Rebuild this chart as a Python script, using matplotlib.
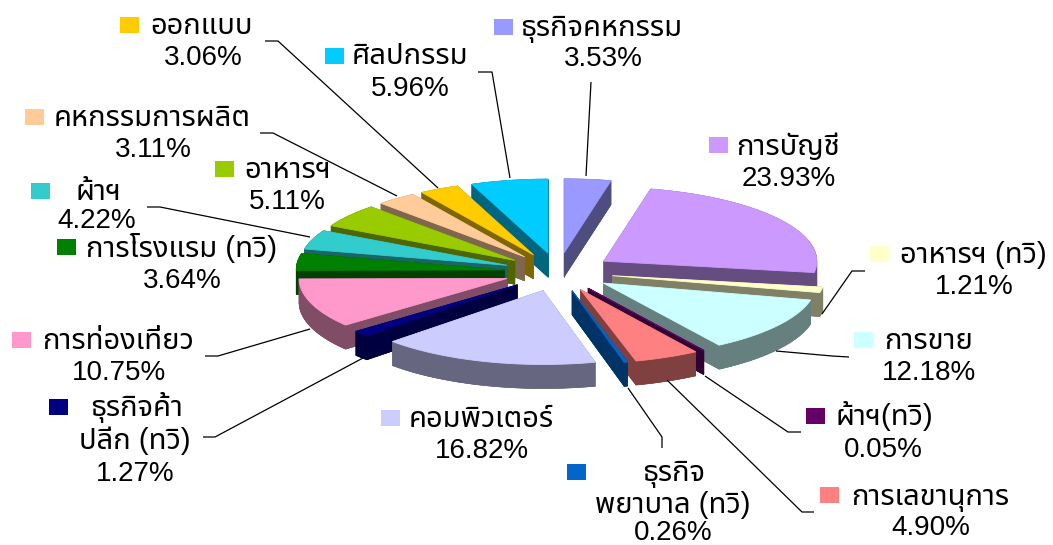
import numpy as np
import matplotlib
matplotlib.use("Agg")
import matplotlib.pyplot as plt
from matplotlib.patches import Polygon, Rectangle
from matplotlib import font_manager as fm

names = ["ธุรกิจคหกรรม", "การบัญชี", "อาหารฯ (ทวิ)", "การขาย", "ผ้าฯ(ทวิ)", "การเลขานุการ",
         "ธุรกิจพยาบาล (ทวิ)", "คอมพิวเตอร์", "ธุรกิจค้าปลีก (ทวิ)", "การท่องเที่ยว",
         "การโรงแรม (ทวิ)", "ผ้าฯ", "อาหารฯ", "คหกรรมการผลิต", "ออกแบบ", "ศิลปกรรม"]
values = [3.53, 23.93, 1.21, 12.18, 0.05, 4.90, 0.26, 16.82, 1.27, 10.75, 3.64, 4.22, 5.11, 3.11, 3.06, 5.96]
colors = ["#9999FF", "#CC99FF", "#FFFFCC", "#CCFFFF", "#660066", "#FF8080", "#0066CC", "#CCCCFF",
          "#000080", "#FF99CC", "#008000", "#33CCCC", "#99CC00", "#FFCC99", "#FFCC00", "#00CCFF"]

# Label layout: key left/top, list of (text, centre x, baseline y) lines
label_keys = [(494, 19), (709, 137), (870, 246), (854, 332), (806, 408), (820, 487), (567, 464), (381, 410),
              (49, 399), (12, 332), (57, 239), (31, 183), (215, 161), (25, 109), (120, 17), (325, 48)]
label_lines = [
    [("ธุรกิจคหกรรม", 601, 36)],
    [("การบัญชี", 788, 155)],
    [("อาหารฯ (ทวิ)", 973, 263)],
    [("การขาย", 929, 349)],
    [("ผ้าฯ(ทวิ)", 884, 425)],
    [("การเลขานุการ", 930, 505)],
    [("ธุรกิจ", 674, 481), ("พยาบาล (ทวิ)", 673, 513)],
    [("คอมพิวเตอร์", 481, 427)],
    [("ธุรกิจค้า", 137, 416), ("ปลีก (ทวิ)", 135, 449)],
    [("การท่องเที่ยว", 118, 349)],
    [("การโรงแรม (ทวิ)", 182, 257)],
    [("ผ้าฯ", 99, 200)],
    [("อาหารฯ", 288, 178)],
    [("คหกรรมการผลิต", 152, 126)],
    [("ออกแบบ", 202, 34)],
    [("ศิลปกรรม", 410, 64)],
]
pct_pos = [(603, 66), (789, 186), (974, 294), (929, 380), (883, 457), (931, 535), (673, 540), (482, 458),
           (135, 481), (119, 380), (182, 288), (97, 228), (287, 209), (153, 157), (203, 65), (410, 96)]
leaders = [
    [(591, 82), (586, 176)],
    None,
    [(865, 271), (852, 271), (822, 314)],
    [(849, 357), (832, 356), (776, 351)],
    [(801, 432), (788, 432), (705, 376)],
    [(814, 512), (802, 512), (667, 380)],
    [(662, 448), (662, 437), (628, 388)],
    None,
    [(203, 437), (215, 437), (363, 358)],
    [(205, 356), (218, 356), (310, 329)],
    None,
    [(147, 207), (160, 207), (310, 237)],
    None,
    [(260, 133), (273, 133), (397, 196)],
    [(265, 41), (278, 41), (438, 188)],
    [(478, 72), (492, 72), (510, 178)],
]

# Pie projection
CX, CY = 558, 272
RX_R, RX_L, RY = 213, 208, 74
EXPLODE = 0.26
DEPTH = 24

avail = {f.name for f in fm.fontManager.ttflist}
thai = [f for f in ["Noto Sans Thai", "Sarabun", "Krub", "Maitree"] if f in avail]
plt.rcParams["font.family"] = ["Liberation Sans"] + thai + ["DejaVu Sans"]

fig = plt.figure(figsize=(10.53, 5.45), dpi=100, facecolor="white")
ax = fig.add_axes([0, 0, 1, 1])
ax.set_xlim(0, 1053)
ax.set_ylim(545, 0)
ax.axis("off")


def project(theta):
    s, c = np.sin(theta), np.cos(theta)
    rx = np.where(s < 0, RX_L, RX_R)
    return rx * s, -RY * c


edges = np.cumsum([0.0] + values)
edges = edges / edges[-1] * 2 * np.pi
slices = []
for i in range(len(values)):
    a0, a1 = edges[i], edges[i + 1]
    mid = (a0 + a1) / 2
    mx, my = project(mid)
    ox, oy = CX + EXPLODE * mx, CY + EXPLODE * my
    th = np.linspace(a0, a1, max(2, int((a1 - a0) * 60)))
    px, py = project(th)
    poly = np.vstack([[ox, oy], np.column_stack([ox + px, oy + py])])
    slices.append((oy, i, poly))


def dark(col):
    r, g, b = matplotlib.colors.to_rgb(col)
    return (r * 0.5, g * 0.5, b * 0.5)


for oy, i, poly in sorted(slices, key=lambda t: t[0]):
    side = dark(colors[i])
    n = len(poly)
    for k in range(n):
        p, q = poly[k], poly[(k + 1) % n]
        quad = [p, q, q + [0, DEPTH], p + [0, DEPTH]]
        ax.add_patch(Polygon(quad, closed=True, fc=side, ec=side, lw=0.4, zorder=2))
    ax.add_patch(Polygon(poly + [0, DEPTH], closed=True, fc=side, ec=side, lw=0.4, zorder=2))
    ax.add_patch(Polygon(poly, closed=True, fc=colors[i], ec=colors[i], lw=0.6, zorder=2))

for i, seg in enumerate(leaders):
    if seg:
        xs, ys = zip(*seg)
        ax.plot(xs, ys, color="black", lw=0.9, zorder=3, solid_capstyle="butt")

FS_NAME = 21
FS_PCT = 20
for i in range(len(values)):
    kx, ky = label_keys[i]
    ax.add_patch(Rectangle((kx, ky), 19, 16, fc=colors[i], ec="none", zorder=4))
    for txt, x, y in label_lines[i]:
        ax.text(x, y, txt, fontsize=FS_NAME, ha="center", va="baseline", color="black", zorder=5)
    px, py = pct_pos[i]
    ax.text(px, py, f"{values[i]:.2f}%", fontsize=FS_PCT, ha="center", va="baseline", color="black", zorder=5)

fig.savefig("out.png", dpi=100, facecolor="white")
